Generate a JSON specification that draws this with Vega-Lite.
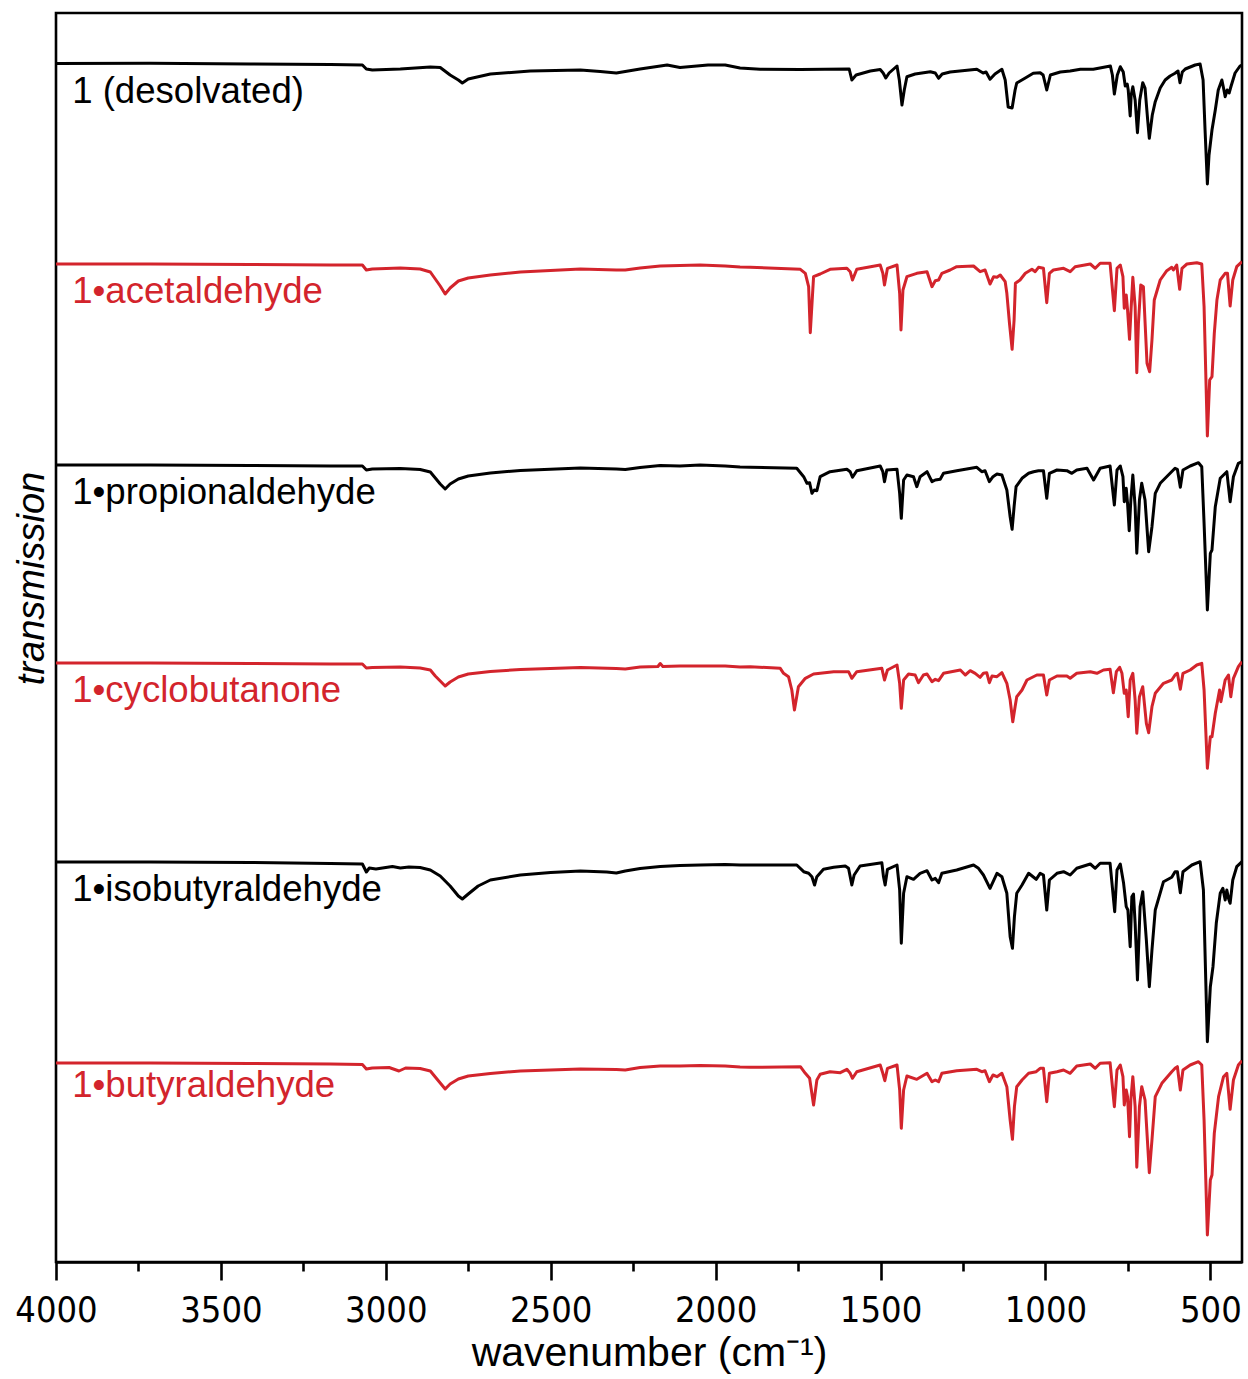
{
"$schema": "https://vega.github.io/schema/vega-lite/v6.json",
"width": 1186, "height": 1249,
"autosize": {"type": "none"},
"padding": {"left": 56, "top": 13, "right": 6, "bottom": 117},
"background": "white",
"config": {"view": {"stroke": "black", "strokeWidth": 2.6}, "font": "Liberation Sans"},
"datasets": {
"spectra": [
{"sample":"desolv","wn":4000,"T":119.85},{"sample":"desolv","wn":3714,"T":119.87},{"sample":"desolv","wn":3411,"T":119.8},{"sample":"desolv","wn":3168,"T":119.75},{"sample":"desolv","wn":3071,"T":119.7},{"sample":"desolv","wn":3059,"T":119.3},{"sample":"desolv","wn":3041,"T":119.2},{"sample":"desolv","wn":2956,"T":119.3},{"sample":"desolv","wn":2865,"T":119.5},{"sample":"desolv","wn":2835,"T":119.45},{"sample":"desolv","wn":2805,"T":118.7},{"sample":"desolv","wn":2780,"T":118.2},{"sample":"desolv","wn":2768,"T":117.9},{"sample":"desolv","wn":2750,"T":118.3},{"sample":"desolv","wn":2683,"T":118.8},{"sample":"desolv","wn":2562,"T":119.1},{"sample":"desolv","wn":2410,"T":119.2},{"sample":"desolv","wn":2350,"T":119.05},{"sample":"desolv","wn":2301,"T":118.9},{"sample":"desolv","wn":2229,"T":119.3},{"sample":"desolv","wn":2147,"T":119.7},{"sample":"desolv","wn":2108,"T":119.45},{"sample":"desolv","wn":2023,"T":119.7},{"sample":"desolv","wn":1971,"T":119.7},{"sample":"desolv","wn":1926,"T":119.4},{"sample":"desolv","wn":1865,"T":119.27},{"sample":"desolv","wn":1743,"T":119.25},{"sample":"desolv","wn":1595,"T":119.3},{"sample":"desolv","wn":1587,"T":118.2},{"sample":"desolv","wn":1574,"T":118.7},{"sample":"desolv","wn":1531,"T":119.1},{"sample":"desolv","wn":1501,"T":119.25},{"sample":"desolv","wn":1492,"T":118.9},{"sample":"desolv","wn":1484,"T":118.4},{"sample":"desolv","wn":1474,"T":118.9},{"sample":"desolv","wn":1450,"T":119.6},{"sample":"desolv","wn":1443,"T":118.2},{"sample":"desolv","wn":1435,"T":115.7},{"sample":"desolv","wn":1428,"T":117.2},{"sample":"desolv","wn":1420,"T":118.53},{"sample":"desolv","wn":1395,"T":118.8},{"sample":"desolv","wn":1349,"T":119.03},{"sample":"desolv","wn":1334,"T":118.9},{"sample":"desolv","wn":1324,"T":118.37},{"sample":"desolv","wn":1313,"T":118.8},{"sample":"desolv","wn":1289,"T":119.0},{"sample":"desolv","wn":1208,"T":119.27},{"sample":"desolv","wn":1189,"T":118.9},{"sample":"desolv","wn":1180,"T":119.0},{"sample":"desolv","wn":1168,"T":118.27},{"sample":"desolv","wn":1153,"T":118.8},{"sample":"desolv","wn":1132,"T":119.27},{"sample":"desolv","wn":1122,"T":118.2},{"sample":"desolv","wn":1113,"T":115.5},{"sample":"desolv","wn":1101,"T":115.4},{"sample":"desolv","wn":1092,"T":117.2},{"sample":"desolv","wn":1087,"T":117.9},{"sample":"desolv","wn":1061,"T":118.4},{"sample":"desolv","wn":1037,"T":118.87},{"sample":"desolv","wn":1016,"T":118.93},{"sample":"desolv","wn":1007,"T":118.7},{"sample":"desolv","wn":996,"T":117.2},{"sample":"desolv","wn":985,"T":118.7},{"sample":"desolv","wn":955,"T":119.0},{"sample":"desolv","wn":925,"T":119.1},{"sample":"desolv","wn":894,"T":119.27},{"sample":"desolv","wn":855,"T":119.27},{"sample":"desolv","wn":803,"T":119.6},{"sample":"desolv","wn":797,"T":118.7},{"sample":"desolv","wn":791,"T":116.8},{"sample":"desolv","wn":782,"T":118.7},{"sample":"desolv","wn":773,"T":119.53},{"sample":"desolv","wn":764,"T":119.0},{"sample":"desolv","wn":758,"T":117.6},{"sample":"desolv","wn":752,"T":117.8},{"sample":"desolv","wn":749,"T":117.2},{"sample":"desolv","wn":743,"T":114.6},{"sample":"desolv","wn":740,"T":116.7},{"sample":"desolv","wn":735,"T":117.53},{"sample":"desolv","wn":728,"T":116.2},{"sample":"desolv","wn":721,"T":112.93},{"sample":"desolv","wn":714,"T":116.2},{"sample":"desolv","wn":705,"T":117.93},{"sample":"desolv","wn":698,"T":117.4},{"sample":"desolv","wn":690,"T":114.2},{"sample":"desolv","wn":685,"T":112.37},{"sample":"desolv","wn":676,"T":114.7},{"sample":"desolv","wn":667,"T":116.03},{"sample":"desolv","wn":652,"T":117.4},{"sample":"desolv","wn":637,"T":118.2},{"sample":"desolv","wn":622,"T":118.6},{"sample":"desolv","wn":607,"T":118.87},{"sample":"desolv","wn":598,"T":119.1},{"sample":"desolv","wn":592,"T":117.93},{"sample":"desolv","wn":585,"T":119.0},{"sample":"desolv","wn":576,"T":119.3},{"sample":"desolv","wn":546,"T":119.7},{"sample":"desolv","wn":531,"T":119.8},{"sample":"desolv","wn":522,"T":118.2},{"sample":"desolv","wn":516,"T":113.2},{"sample":"desolv","wn":509,"T":107.8},{"sample":"desolv","wn":504,"T":110.7},{"sample":"desolv","wn":495,"T":113.2},{"sample":"desolv","wn":485,"T":115.2},{"sample":"desolv","wn":476,"T":117.2},{"sample":"desolv","wn":465,"T":118.2},{"sample":"desolv","wn":460,"T":117.4},{"sample":"desolv","wn":455,"T":116.53},{"sample":"desolv","wn":449,"T":117.2},{"sample":"desolv","wn":443,"T":116.9},{"sample":"desolv","wn":437,"T":117.6},{"sample":"desolv","wn":425,"T":118.9},{"sample":"desolv","wn":410,"T":119.6},{"sample":"desolv","wn":404,"T":119.7},

{"sample":"acet","wn":4000,"T":99.8},{"sample":"acet","wn":3714,"T":99.8},{"sample":"acet","wn":3411,"T":99.75},{"sample":"acet","wn":3168,"T":99.7},{"sample":"acet","wn":3071,"T":99.7},{"sample":"acet","wn":3059,"T":99.2},{"sample":"acet","wn":3041,"T":99.3},{"sample":"acet","wn":2956,"T":99.4},{"sample":"acet","wn":2896,"T":99.3},{"sample":"acet","wn":2865,"T":99.0},{"sample":"acet","wn":2850,"T":98.3},{"sample":"acet","wn":2835,"T":97.6},{"sample":"acet","wn":2820,"T":96.8},{"sample":"acet","wn":2805,"T":97.4},{"sample":"acet","wn":2780,"T":98.1},{"sample":"acet","wn":2750,"T":98.4},{"sample":"acet","wn":2683,"T":98.7},{"sample":"acet","wn":2592,"T":99.0},{"sample":"acet","wn":2410,"T":99.3},{"sample":"acet","wn":2301,"T":99.2},{"sample":"acet","wn":2274,"T":99.2},{"sample":"acet","wn":2229,"T":99.4},{"sample":"acet","wn":2168,"T":99.6},{"sample":"acet","wn":2108,"T":99.65},{"sample":"acet","wn":2047,"T":99.7},{"sample":"acet","wn":1971,"T":99.6},{"sample":"acet","wn":1926,"T":99.5},{"sample":"acet","wn":1895,"T":99.47},{"sample":"acet","wn":1743,"T":99.27},{"sample":"acet","wn":1728,"T":98.87},{"sample":"acet","wn":1718,"T":97.53},{"sample":"acet","wn":1713,"T":92.93},{"sample":"acet","wn":1703,"T":98.53},{"sample":"acet","wn":1683,"T":98.8},{"sample":"acet","wn":1653,"T":99.27},{"sample":"acet","wn":1602,"T":99.37},{"sample":"acet","wn":1592,"T":99.03},{"sample":"acet","wn":1585,"T":98.2},{"sample":"acet","wn":1572,"T":99.27},{"sample":"acet","wn":1501,"T":99.7},{"sample":"acet","wn":1493,"T":98.87},{"sample":"acet","wn":1488,"T":97.7},{"sample":"acet","wn":1479,"T":99.37},{"sample":"acet","wn":1450,"T":99.7},{"sample":"acet","wn":1442,"T":96.87},{"sample":"acet","wn":1438,"T":93.2},{"sample":"acet","wn":1432,"T":97.2},{"sample":"acet","wn":1420,"T":98.53},{"sample":"acet","wn":1390,"T":98.87},{"sample":"acet","wn":1359,"T":99.03},{"sample":"acet","wn":1344,"T":97.53},{"sample":"acet","wn":1334,"T":98.13},{"sample":"acet","wn":1324,"T":98.2},{"sample":"acet","wn":1314,"T":98.87},{"sample":"acet","wn":1289,"T":99.2},{"sample":"acet","wn":1269,"T":99.53},{"sample":"acet","wn":1218,"T":99.6},{"sample":"acet","wn":1198,"T":99.03},{"sample":"acet","wn":1183,"T":99.2},{"sample":"acet","wn":1168,"T":97.8},{"sample":"acet","wn":1157,"T":98.53},{"sample":"acet","wn":1147,"T":98.47},{"sample":"acet","wn":1137,"T":98.7},{"sample":"acet","wn":1122,"T":98.03},{"sample":"acet","wn":1117,"T":96.87},{"sample":"acet","wn":1109,"T":93.87},{"sample":"acet","wn":1101,"T":91.27},{"sample":"acet","wn":1095,"T":94.2},{"sample":"acet","wn":1091,"T":97.87},{"sample":"acet","wn":1077,"T":98.2},{"sample":"acet","wn":1061,"T":98.87},{"sample":"acet","wn":1041,"T":99.27},{"sample":"acet","wn":1031,"T":99.03},{"sample":"acet","wn":1021,"T":99.47},{"sample":"acet","wn":1006,"T":99.37},{"sample":"acet","wn":996,"T":95.93},{"sample":"acet","wn":988,"T":98.87},{"sample":"acet","wn":976,"T":99.2},{"sample":"acet","wn":945,"T":99.37},{"sample":"acet","wn":925,"T":99.03},{"sample":"acet","wn":910,"T":99.53},{"sample":"acet","wn":864,"T":99.8},{"sample":"acet","wn":849,"T":99.37},{"sample":"acet","wn":834,"T":99.87},{"sample":"acet","wn":804,"T":99.87},{"sample":"acet","wn":791,"T":95.13},{"sample":"acet","wn":783,"T":99.37},{"sample":"acet","wn":773,"T":99.7},{"sample":"acet","wn":765,"T":98.53},{"sample":"acet","wn":761,"T":95.37},{"sample":"acet","wn":755,"T":96.7},{"sample":"acet","wn":751,"T":95.2},{"sample":"acet","wn":745,"T":92.27},{"sample":"acet","wn":741,"T":94.87},{"sample":"acet","wn":735,"T":98.47},{"sample":"acet","wn":728,"T":95.53},{"sample":"acet","wn":723,"T":88.93},{"sample":"acet","wn":718,"T":93.87},{"sample":"acet","wn":711,"T":97.7},{"sample":"acet","wn":703,"T":97.53},{"sample":"acet","wn":692,"T":89.87},{"sample":"acet","wn":684,"T":89.03},{"sample":"acet","wn":677,"T":92.2},{"sample":"acet","wn":670,"T":96.2},{"sample":"acet","wn":652,"T":98.2},{"sample":"acet","wn":632,"T":99.13},{"sample":"acet","wn":617,"T":99.47},{"sample":"acet","wn":612,"T":99.2},{"sample":"acet","wn":602,"T":99.7},{"sample":"acet","wn":593,"T":97.27},{"sample":"acet","wn":586,"T":99.37},{"sample":"acet","wn":571,"T":99.8},{"sample":"acet","wn":541,"T":99.93},{"sample":"acet","wn":526,"T":99.8},{"sample":"acet","wn":519,"T":95.53},{"sample":"acet","wn":509,"T":82.6},{"sample":"acet","wn":502,"T":88.2},{"sample":"acet","wn":495,"T":88.53},{"sample":"acet","wn":488,"T":92.87},{"sample":"acet","wn":480,"T":96.2},{"sample":"acet","wn":470,"T":98.2},{"sample":"acet","wn":455,"T":98.87},{"sample":"acet","wn":448,"T":98.87},{"sample":"acet","wn":440,"T":95.6},{"sample":"acet","wn":432,"T":98.2},{"sample":"acet","wn":420,"T":99.53},{"sample":"acet","wn":404,"T":100.03},

{"sample":"prop","wn":4000,"T":79.7},{"sample":"prop","wn":3714,"T":79.7},{"sample":"prop","wn":3411,"T":79.65},{"sample":"prop","wn":3168,"T":79.6},{"sample":"prop","wn":3071,"T":79.6},{"sample":"prop","wn":3059,"T":79.2},{"sample":"prop","wn":3041,"T":79.3},{"sample":"prop","wn":2956,"T":79.35},{"sample":"prop","wn":2896,"T":79.25},{"sample":"prop","wn":2865,"T":79.0},{"sample":"prop","wn":2850,"T":78.4},{"sample":"prop","wn":2835,"T":77.8},{"sample":"prop","wn":2820,"T":77.3},{"sample":"prop","wn":2805,"T":77.8},{"sample":"prop","wn":2780,"T":78.3},{"sample":"prop","wn":2750,"T":78.6},{"sample":"prop","wn":2683,"T":78.9},{"sample":"prop","wn":2592,"T":79.15},{"sample":"prop","wn":2410,"T":79.4},{"sample":"prop","wn":2301,"T":79.3},{"sample":"prop","wn":2274,"T":79.25},{"sample":"prop","wn":2229,"T":79.45},{"sample":"prop","wn":2168,"T":79.65},{"sample":"prop","wn":2108,"T":79.6},{"sample":"prop","wn":2047,"T":79.7},{"sample":"prop","wn":1971,"T":79.6},{"sample":"prop","wn":1926,"T":79.5},{"sample":"prop","wn":1895,"T":79.47},{"sample":"prop","wn":1754,"T":79.37},{"sample":"prop","wn":1733,"T":78.53},{"sample":"prop","wn":1723,"T":77.87},{"sample":"prop","wn":1715,"T":77.93},{"sample":"prop","wn":1708,"T":76.87},{"sample":"prop","wn":1701,"T":77.2},{"sample":"prop","wn":1693,"T":77.13},{"sample":"prop","wn":1683,"T":78.53},{"sample":"prop","wn":1653,"T":79.03},{"sample":"prop","wn":1602,"T":79.27},{"sample":"prop","wn":1592,"T":79.03},{"sample":"prop","wn":1585,"T":78.47},{"sample":"prop","wn":1572,"T":79.13},{"sample":"prop","wn":1501,"T":79.6},{"sample":"prop","wn":1493,"T":79.03},{"sample":"prop","wn":1488,"T":78.03},{"sample":"prop","wn":1481,"T":79.2},{"sample":"prop","wn":1450,"T":79.27},{"sample":"prop","wn":1442,"T":76.87},{"sample":"prop","wn":1437,"T":74.37},{"sample":"prop","wn":1430,"T":78.2},{"sample":"prop","wn":1420,"T":78.7},{"sample":"prop","wn":1400,"T":78.53},{"sample":"prop","wn":1390,"T":77.53},{"sample":"prop","wn":1380,"T":78.53},{"sample":"prop","wn":1359,"T":79.03},{"sample":"prop","wn":1344,"T":78.03},{"sample":"prop","wn":1334,"T":78.2},{"sample":"prop","wn":1319,"T":78.27},{"sample":"prop","wn":1309,"T":78.87},{"sample":"prop","wn":1269,"T":79.13},{"sample":"prop","wn":1208,"T":79.47},{"sample":"prop","wn":1193,"T":79.03},{"sample":"prop","wn":1183,"T":79.13},{"sample":"prop","wn":1170,"T":78.03},{"sample":"prop","wn":1159,"T":78.53},{"sample":"prop","wn":1147,"T":78.8},{"sample":"prop","wn":1132,"T":78.7},{"sample":"prop","wn":1117,"T":77.2},{"sample":"prop","wn":1107,"T":74.53},{"sample":"prop","wn":1101,"T":73.27},{"sample":"prop","wn":1095,"T":75.53},{"sample":"prop","wn":1089,"T":77.53},{"sample":"prop","wn":1071,"T":78.37},{"sample":"prop","wn":1051,"T":78.87},{"sample":"prop","wn":1036,"T":79.03},{"sample":"prop","wn":1021,"T":79.13},{"sample":"prop","wn":1006,"T":79.13},{"sample":"prop","wn":996,"T":76.37},{"sample":"prop","wn":988,"T":78.87},{"sample":"prop","wn":965,"T":79.2},{"sample":"prop","wn":935,"T":79.13},{"sample":"prop","wn":920,"T":78.87},{"sample":"prop","wn":905,"T":79.2},{"sample":"prop","wn":874,"T":79.37},{"sample":"prop","wn":854,"T":78.2},{"sample":"prop","wn":834,"T":79.37},{"sample":"prop","wn":804,"T":79.6},{"sample":"prop","wn":791,"T":75.7},{"sample":"prop","wn":783,"T":79.2},{"sample":"prop","wn":773,"T":79.6},{"sample":"prop","wn":765,"T":78.53},{"sample":"prop","wn":761,"T":76.03},{"sample":"prop","wn":755,"T":77.37},{"sample":"prop","wn":751,"T":75.87},{"sample":"prop","wn":746,"T":73.13},{"sample":"prop","wn":741,"T":76.2},{"sample":"prop","wn":735,"T":78.7},{"sample":"prop","wn":728,"T":75.53},{"sample":"prop","wn":723,"T":70.87},{"sample":"prop","wn":715,"T":76.2},{"sample":"prop","wn":708,"T":77.87},{"sample":"prop","wn":698,"T":76.2},{"sample":"prop","wn":687,"T":71.03},{"sample":"prop","wn":677,"T":73.53},{"sample":"prop","wn":667,"T":76.87},{"sample":"prop","wn":652,"T":77.87},{"sample":"prop","wn":622,"T":78.87},{"sample":"prop","wn":607,"T":79.37},{"sample":"prop","wn":600,"T":79.27},{"sample":"prop","wn":591,"T":77.47},{"sample":"prop","wn":583,"T":79.2},{"sample":"prop","wn":561,"T":79.6},{"sample":"prop","wn":536,"T":79.93},{"sample":"prop","wn":526,"T":79.53},{"sample":"prop","wn":519,"T":73.87},{"sample":"prop","wn":509,"T":65.2},{"sample":"prop","wn":500,"T":70.87},{"sample":"prop","wn":495,"T":71.2},{"sample":"prop","wn":485,"T":75.53},{"sample":"prop","wn":470,"T":78.37},{"sample":"prop","wn":450,"T":79.03},{"sample":"prop","wn":440,"T":76.03},{"sample":"prop","wn":430,"T":78.53},{"sample":"prop","wn":415,"T":79.87},{"sample":"prop","wn":404,"T":80.03},

{"sample":"cbut","wn":4000,"T":59.9},{"sample":"cbut","wn":3714,"T":59.9},{"sample":"cbut","wn":3411,"T":59.85},{"sample":"cbut","wn":3168,"T":59.8},{"sample":"cbut","wn":3071,"T":59.8},{"sample":"cbut","wn":3059,"T":59.4},{"sample":"cbut","wn":3041,"T":59.45},{"sample":"cbut","wn":2956,"T":59.5},{"sample":"cbut","wn":2896,"T":59.4},{"sample":"cbut","wn":2865,"T":59.2},{"sample":"cbut","wn":2850,"T":58.6},{"sample":"cbut","wn":2835,"T":58.1},{"sample":"cbut","wn":2820,"T":57.6},{"sample":"cbut","wn":2805,"T":58.0},{"sample":"cbut","wn":2780,"T":58.5},{"sample":"cbut","wn":2750,"T":58.8},{"sample":"cbut","wn":2683,"T":59.05},{"sample":"cbut","wn":2592,"T":59.25},{"sample":"cbut","wn":2410,"T":59.45},{"sample":"cbut","wn":2301,"T":59.35},{"sample":"cbut","wn":2274,"T":59.3},{"sample":"cbut","wn":2229,"T":59.5},{"sample":"cbut","wn":2175,"T":59.55},{"sample":"cbut","wn":2168,"T":59.85},{"sample":"cbut","wn":2160,"T":59.55},{"sample":"cbut","wn":2108,"T":59.6},{"sample":"cbut","wn":2047,"T":59.6},{"sample":"cbut","wn":1971,"T":59.6},{"sample":"cbut","wn":1926,"T":59.5},{"sample":"cbut","wn":1895,"T":59.53},{"sample":"cbut","wn":1804,"T":59.37},{"sample":"cbut","wn":1794,"T":58.87},{"sample":"cbut","wn":1779,"T":58.53},{"sample":"cbut","wn":1769,"T":57.2},{"sample":"cbut","wn":1761,"T":55.2},{"sample":"cbut","wn":1749,"T":57.53},{"sample":"cbut","wn":1728,"T":58.37},{"sample":"cbut","wn":1703,"T":58.8},{"sample":"cbut","wn":1642,"T":59.03},{"sample":"cbut","wn":1597,"T":59.03},{"sample":"cbut","wn":1587,"T":58.37},{"sample":"cbut","wn":1572,"T":59.03},{"sample":"cbut","wn":1496,"T":59.37},{"sample":"cbut","wn":1488,"T":58.2},{"sample":"cbut","wn":1479,"T":59.2},{"sample":"cbut","wn":1450,"T":59.7},{"sample":"cbut","wn":1442,"T":57.87},{"sample":"cbut","wn":1437,"T":55.37},{"sample":"cbut","wn":1430,"T":58.2},{"sample":"cbut","wn":1415,"T":58.8},{"sample":"cbut","wn":1395,"T":58.7},{"sample":"cbut","wn":1385,"T":57.93},{"sample":"cbut","wn":1370,"T":58.7},{"sample":"cbut","wn":1359,"T":58.8},{"sample":"cbut","wn":1344,"T":58.03},{"sample":"cbut","wn":1334,"T":58.27},{"sample":"cbut","wn":1324,"T":58.13},{"sample":"cbut","wn":1309,"T":58.87},{"sample":"cbut","wn":1258,"T":59.2},{"sample":"cbut","wn":1243,"T":58.7},{"sample":"cbut","wn":1228,"T":59.13},{"sample":"cbut","wn":1213,"T":58.87},{"sample":"cbut","wn":1198,"T":58.47},{"sample":"cbut","wn":1188,"T":58.87},{"sample":"cbut","wn":1178,"T":58.93},{"sample":"cbut","wn":1170,"T":57.93},{"sample":"cbut","wn":1162,"T":58.6},{"sample":"cbut","wn":1147,"T":58.53},{"sample":"cbut","wn":1132,"T":58.93},{"sample":"cbut","wn":1117,"T":57.87},{"sample":"cbut","wn":1107,"T":56.2},{"sample":"cbut","wn":1099,"T":54.03},{"sample":"cbut","wn":1092,"T":55.53},{"sample":"cbut","wn":1087,"T":56.53},{"sample":"cbut","wn":1071,"T":57.2},{"sample":"cbut","wn":1056,"T":58.2},{"sample":"cbut","wn":1026,"T":58.7},{"sample":"cbut","wn":1006,"T":58.7},{"sample":"cbut","wn":996,"T":56.7},{"sample":"cbut","wn":988,"T":58.2},{"sample":"cbut","wn":965,"T":58.6},{"sample":"cbut","wn":935,"T":58.6},{"sample":"cbut","wn":925,"T":58.37},{"sample":"cbut","wn":905,"T":58.87},{"sample":"cbut","wn":864,"T":59.03},{"sample":"cbut","wn":844,"T":58.87},{"sample":"cbut","wn":824,"T":59.2},{"sample":"cbut","wn":804,"T":59.27},{"sample":"cbut","wn":794,"T":56.93},{"sample":"cbut","wn":785,"T":59.03},{"sample":"cbut","wn":775,"T":59.47},{"sample":"cbut","wn":768,"T":58.87},{"sample":"cbut","wn":761,"T":56.87},{"sample":"cbut","wn":755,"T":57.2},{"sample":"cbut","wn":749,"T":54.53},{"sample":"cbut","wn":743,"T":58.2},{"sample":"cbut","wn":735,"T":58.87},{"sample":"cbut","wn":728,"T":56.2},{"sample":"cbut","wn":723,"T":52.87},{"sample":"cbut","wn":715,"T":56.53},{"sample":"cbut","wn":705,"T":57.53},{"sample":"cbut","wn":694,"T":53.87},{"sample":"cbut","wn":687,"T":52.93},{"sample":"cbut","wn":677,"T":55.53},{"sample":"cbut","wn":667,"T":56.87},{"sample":"cbut","wn":642,"T":57.87},{"sample":"cbut","wn":617,"T":58.2},{"sample":"cbut","wn":607,"T":58.7},{"sample":"cbut","wn":600,"T":58.87},{"sample":"cbut","wn":591,"T":57.27},{"sample":"cbut","wn":583,"T":58.87},{"sample":"cbut","wn":561,"T":59.2},{"sample":"cbut","wn":541,"T":59.7},{"sample":"cbut","wn":526,"T":59.87},{"sample":"cbut","wn":519,"T":57.2},{"sample":"cbut","wn":509,"T":49.37},{"sample":"cbut","wn":500,"T":52.53},{"sample":"cbut","wn":495,"T":52.53},{"sample":"cbut","wn":485,"T":54.87},{"sample":"cbut","wn":472,"T":57.2},{"sample":"cbut","wn":468,"T":56.03},{"sample":"cbut","wn":455,"T":58.2},{"sample":"cbut","wn":445,"T":58.7},{"sample":"cbut","wn":438,"T":56.53},{"sample":"cbut","wn":430,"T":58.37},{"sample":"cbut","wn":415,"T":59.53},{"sample":"cbut","wn":404,"T":60.03},

{"sample":"isobut","wn":4000,"T":40.0},{"sample":"isobut","wn":3714,"T":40.0},{"sample":"isobut","wn":3411,"T":39.95},{"sample":"isobut","wn":3168,"T":39.85},{"sample":"isobut","wn":3071,"T":39.8},{"sample":"isobut","wn":3059,"T":39.0},{"sample":"isobut","wn":3050,"T":39.4},{"sample":"isobut","wn":3030,"T":39.3},{"sample":"isobut","wn":2980,"T":39.55},{"sample":"isobut","wn":2956,"T":39.4},{"sample":"isobut","wn":2930,"T":39.5},{"sample":"isobut","wn":2896,"T":39.45},{"sample":"isobut","wn":2865,"T":39.2},{"sample":"isobut","wn":2835,"T":38.6},{"sample":"isobut","wn":2805,"T":37.6},{"sample":"isobut","wn":2780,"T":36.6},{"sample":"isobut","wn":2768,"T":36.3},{"sample":"isobut","wn":2750,"T":36.8},{"sample":"isobut","wn":2720,"T":37.6},{"sample":"isobut","wn":2683,"T":38.2},{"sample":"isobut","wn":2592,"T":38.7},{"sample":"isobut","wn":2500,"T":38.95},{"sample":"isobut","wn":2410,"T":39.1},{"sample":"isobut","wn":2330,"T":39.0},{"sample":"isobut","wn":2301,"T":38.9},{"sample":"isobut","wn":2274,"T":39.1},{"sample":"isobut","wn":2229,"T":39.35},{"sample":"isobut","wn":2168,"T":39.55},{"sample":"isobut","wn":2108,"T":39.65},{"sample":"isobut","wn":2047,"T":39.7},{"sample":"isobut","wn":1971,"T":39.75},{"sample":"isobut","wn":1926,"T":39.7},{"sample":"isobut","wn":1895,"T":39.7},{"sample":"isobut","wn":1754,"T":39.7},{"sample":"isobut","wn":1733,"T":39.03},{"sample":"isobut","wn":1718,"T":38.87},{"sample":"isobut","wn":1708,"T":38.53},{"sample":"isobut","wn":1700,"T":37.7},{"sample":"isobut","wn":1693,"T":38.53},{"sample":"isobut","wn":1673,"T":39.27},{"sample":"isobut","wn":1642,"T":39.47},{"sample":"isobut","wn":1607,"T":39.6},{"sample":"isobut","wn":1597,"T":39.37},{"sample":"isobut","wn":1587,"T":37.7},{"sample":"isobut","wn":1580,"T":38.7},{"sample":"isobut","wn":1562,"T":39.6},{"sample":"isobut","wn":1496,"T":39.93},{"sample":"isobut","wn":1491,"T":38.53},{"sample":"isobut","wn":1486,"T":37.7},{"sample":"isobut","wn":1479,"T":39.27},{"sample":"isobut","wn":1450,"T":39.7},{"sample":"isobut","wn":1442,"T":37.2},{"sample":"isobut","wn":1437,"T":31.87},{"sample":"isobut","wn":1430,"T":36.87},{"sample":"isobut","wn":1420,"T":38.53},{"sample":"isobut","wn":1400,"T":38.27},{"sample":"isobut","wn":1380,"T":38.87},{"sample":"isobut","wn":1359,"T":39.13},{"sample":"isobut","wn":1344,"T":38.2},{"sample":"isobut","wn":1334,"T":38.37},{"sample":"isobut","wn":1324,"T":37.93},{"sample":"isobut","wn":1314,"T":38.87},{"sample":"isobut","wn":1269,"T":39.2},{"sample":"isobut","wn":1218,"T":39.7},{"sample":"isobut","wn":1203,"T":39.37},{"sample":"isobut","wn":1188,"T":38.7},{"sample":"isobut","wn":1168,"T":37.37},{"sample":"isobut","wn":1147,"T":38.87},{"sample":"isobut","wn":1132,"T":38.53},{"sample":"isobut","wn":1117,"T":36.87},{"sample":"isobut","wn":1107,"T":32.53},{"sample":"isobut","wn":1100,"T":31.37},{"sample":"isobut","wn":1094,"T":34.53},{"sample":"isobut","wn":1087,"T":36.87},{"sample":"isobut","wn":1071,"T":37.7},{"sample":"isobut","wn":1051,"T":38.87},{"sample":"isobut","wn":1028,"T":38.27},{"sample":"isobut","wn":1016,"T":38.87},{"sample":"isobut","wn":1006,"T":38.7},{"sample":"isobut","wn":996,"T":35.2},{"sample":"isobut","wn":988,"T":38.2},{"sample":"isobut","wn":965,"T":38.87},{"sample":"isobut","wn":945,"T":39.03},{"sample":"isobut","wn":925,"T":38.7},{"sample":"isobut","wn":905,"T":39.37},{"sample":"isobut","wn":864,"T":39.8},{"sample":"isobut","wn":849,"T":39.37},{"sample":"isobut","wn":834,"T":39.87},{"sample":"isobut","wn":804,"T":39.87},{"sample":"isobut","wn":790,"T":35.03},{"sample":"isobut","wn":783,"T":39.2},{"sample":"isobut","wn":773,"T":39.8},{"sample":"isobut","wn":763,"T":37.87},{"sample":"isobut","wn":755,"T":35.53},{"sample":"isobut","wn":750,"T":35.2},{"sample":"isobut","wn":743,"T":31.53},{"sample":"isobut","wn":738,"T":36.53},{"sample":"isobut","wn":733,"T":36.8},{"sample":"isobut","wn":728,"T":33.87},{"sample":"isobut","wn":721,"T":28.2},{"sample":"isobut","wn":713,"T":35.53},{"sample":"isobut","wn":705,"T":37.03},{"sample":"isobut","wn":694,"T":32.2},{"sample":"isobut","wn":685,"T":27.53},{"sample":"isobut","wn":677,"T":31.2},{"sample":"isobut","wn":667,"T":35.2},{"sample":"isobut","wn":642,"T":38.03},{"sample":"isobut","wn":617,"T":38.47},{"sample":"isobut","wn":607,"T":39.03},{"sample":"isobut","wn":600,"T":39.03},{"sample":"isobut","wn":591,"T":36.93},{"sample":"isobut","wn":583,"T":39.03},{"sample":"isobut","wn":556,"T":39.7},{"sample":"isobut","wn":531,"T":40.03},{"sample":"isobut","wn":521,"T":37.2},{"sample":"isobut","wn":509,"T":22.03},{"sample":"isobut","wn":500,"T":27.53},{"sample":"isobut","wn":492,"T":29.53},{"sample":"isobut","wn":482,"T":33.87},{"sample":"isobut","wn":470,"T":36.87},{"sample":"isobut","wn":462,"T":37.37},{"sample":"isobut","wn":455,"T":36.2},{"sample":"isobut","wn":450,"T":37.2},{"sample":"isobut","wn":445,"T":36.37},{"sample":"isobut","wn":440,"T":35.87},{"sample":"isobut","wn":432,"T":38.2},{"sample":"isobut","wn":420,"T":39.53},{"sample":"isobut","wn":404,"T":40.03},

{"sample":"but","wn":4000,"T":19.9},{"sample":"but","wn":3714,"T":19.9},{"sample":"but","wn":3411,"T":19.85},{"sample":"but","wn":3168,"T":19.8},{"sample":"but","wn":3071,"T":19.75},{"sample":"but","wn":3059,"T":19.3},{"sample":"but","wn":3041,"T":19.4},{"sample":"but","wn":2990,"T":19.45},{"sample":"but","wn":2960,"T":19.1},{"sample":"but","wn":2940,"T":19.4},{"sample":"but","wn":2896,"T":19.35},{"sample":"but","wn":2865,"T":19.1},{"sample":"but","wn":2850,"T":18.5},{"sample":"but","wn":2835,"T":17.9},{"sample":"but","wn":2820,"T":17.3},{"sample":"but","wn":2805,"T":17.8},{"sample":"but","wn":2780,"T":18.3},{"sample":"but","wn":2750,"T":18.6},{"sample":"but","wn":2683,"T":18.85},{"sample":"but","wn":2592,"T":19.1},{"sample":"but","wn":2410,"T":19.3},{"sample":"but","wn":2301,"T":19.25},{"sample":"but","wn":2274,"T":19.2},{"sample":"but","wn":2229,"T":19.45},{"sample":"but","wn":2168,"T":19.6},{"sample":"but","wn":2108,"T":19.6},{"sample":"but","wn":2047,"T":19.65},{"sample":"but","wn":1971,"T":19.6},{"sample":"but","wn":1926,"T":19.5},{"sample":"but","wn":1895,"T":19.47},{"sample":"but","wn":1743,"T":19.53},{"sample":"but","wn":1728,"T":18.87},{"sample":"but","wn":1715,"T":18.37},{"sample":"but","wn":1703,"T":15.7},{"sample":"but","wn":1693,"T":18.2},{"sample":"but","wn":1683,"T":18.77},{"sample":"but","wn":1653,"T":19.03},{"sample":"but","wn":1622,"T":18.93},{"sample":"but","wn":1602,"T":19.27},{"sample":"but","wn":1592,"T":18.87},{"sample":"but","wn":1585,"T":18.37},{"sample":"but","wn":1572,"T":19.03},{"sample":"but","wn":1501,"T":19.7},{"sample":"but","wn":1493,"T":18.87},{"sample":"but","wn":1487,"T":18.13},{"sample":"but","wn":1479,"T":19.37},{"sample":"but","wn":1450,"T":19.7},{"sample":"but","wn":1442,"T":17.2},{"sample":"but","wn":1437,"T":13.37},{"sample":"but","wn":1430,"T":17.2},{"sample":"but","wn":1420,"T":18.6},{"sample":"but","wn":1390,"T":18.27},{"sample":"but","wn":1359,"T":18.87},{"sample":"but","wn":1344,"T":18.03},{"sample":"but","wn":1334,"T":18.2},{"sample":"but","wn":1324,"T":18.03},{"sample":"but","wn":1314,"T":18.87},{"sample":"but","wn":1269,"T":19.13},{"sample":"but","wn":1208,"T":19.27},{"sample":"but","wn":1193,"T":19.03},{"sample":"but","wn":1183,"T":19.13},{"sample":"but","wn":1170,"T":18.03},{"sample":"but","wn":1159,"T":18.7},{"sample":"but","wn":1147,"T":18.53},{"sample":"but","wn":1132,"T":18.87},{"sample":"but","wn":1117,"T":17.53},{"sample":"but","wn":1107,"T":14.2},{"sample":"but","wn":1100,"T":12.27},{"sample":"but","wn":1094,"T":15.53},{"sample":"but","wn":1087,"T":17.53},{"sample":"but","wn":1071,"T":18.2},{"sample":"but","wn":1051,"T":18.87},{"sample":"but","wn":1028,"T":19.03},{"sample":"but","wn":1016,"T":19.37},{"sample":"but","wn":1006,"T":19.37},{"sample":"but","wn":996,"T":16.03},{"sample":"but","wn":988,"T":18.87},{"sample":"but","wn":965,"T":19.03},{"sample":"but","wn":945,"T":19.2},{"sample":"but","wn":925,"T":18.87},{"sample":"but","wn":905,"T":19.6},{"sample":"but","wn":864,"T":19.8},{"sample":"but","wn":849,"T":19.37},{"sample":"but","wn":834,"T":19.87},{"sample":"but","wn":804,"T":19.93},{"sample":"but","wn":791,"T":15.53},{"sample":"but","wn":783,"T":19.2},{"sample":"but","wn":773,"T":19.7},{"sample":"but","wn":765,"T":18.53},{"sample":"but","wn":761,"T":15.7},{"sample":"but","wn":755,"T":17.2},{"sample":"but","wn":751,"T":16.53},{"sample":"but","wn":745,"T":12.53},{"sample":"but","wn":741,"T":16.2},{"sample":"but","wn":735,"T":18.53},{"sample":"but","wn":728,"T":15.53},{"sample":"but","wn":723,"T":9.47},{"sample":"but","wn":715,"T":15.53},{"sample":"but","wn":708,"T":17.53},{"sample":"but","wn":698,"T":16.2},{"sample":"but","wn":685,"T":8.93},{"sample":"but","wn":677,"T":12.2},{"sample":"but","wn":667,"T":16.53},{"sample":"but","wn":647,"T":17.87},{"sample":"but","wn":617,"T":19.03},{"sample":"but","wn":607,"T":19.37},{"sample":"but","wn":600,"T":19.53},{"sample":"but","wn":591,"T":17.2},{"sample":"but","wn":583,"T":19.2},{"sample":"but","wn":561,"T":19.7},{"sample":"but","wn":536,"T":20.03},{"sample":"but","wn":526,"T":19.7},{"sample":"but","wn":519,"T":14.2},{"sample":"but","wn":509,"T":2.7},{"sample":"but","wn":500,"T":8.2},{"sample":"but","wn":495,"T":8.7},{"sample":"but","wn":488,"T":12.87},{"sample":"but","wn":475,"T":16.53},{"sample":"but","wn":460,"T":18.53},{"sample":"but","wn":450,"T":18.87},{"sample":"but","wn":440,"T":15.27},{"sample":"but","wn":430,"T":18.2},{"sample":"but","wn":415,"T":19.7},{"sample":"but","wn":404,"T":20.13}
],
"labels": [
{"sample":"desolv","text":"1 (desolvated)","wn":3951,"T":117.0},
{"sample":"acet","text":"1•acetaldehyde","wn":3951,"T":97.0},
{"sample":"prop","text":"1•propionaldehyde","wn":3951,"T":76.9},
{"sample":"cbut","text":"1•cyclobutanone","wn":3951,"T":57.1},
{"sample":"isobut","text":"1•isobutyraldehyde","wn":3951,"T":37.2},
{"sample":"but","text":"1•butyraldehyde","wn":3951,"T":17.6}
]
},
"layer": [
{
"data": {"name": "spectra"},
"mark": {"type": "line", "strokeWidth": 3, "clip": true, "strokeJoin": "round"},
"encoding": {
"x": {"field": "wn", "type": "quantitative",
 "scale": {"domain": [404, 4000], "reverse": true, "nice": false, "zero": false},
 "axis": {
  "values": [4000,3750,3500,3250,3000,2750,2500,2250,2000,1750,1500,1250,1000,750,500],
  "format": "d",
  "labelExpr": "datum.value % 500 === 0 ? datum.label : ''",
  "tickSize": {"condition": {"test": "datum.value % 500 !== 0", "value": 9}, "value": 18},
  "tickWidth": 2.6, "tickColor": "black",
  "domainColor": "black", "domainWidth": 2.6,
  "labelFont": "DejaVu Sans Condensed, Liberation Sans, sans-serif", "labelFontSize": 36, "labelColor": "black", "labelPadding": 13,
  "labelFlush": false, "labelOverlap": false, "grid": false,
  "title": "wavenumber (cm⁻¹)", "titleFont": "Liberation Sans", "titleFontSize": 41, "titleFontWeight": "normal", "titleColor": "black", "titlePadding": 5
 }},
"y": {"field": "T", "type": "quantitative",
 "scale": {"domain": [0, 124.9], "nice": false, "zero": false},
 "axis": {"title": "transmission", "titleFontStyle": "italic", "titleFont": "Liberation Sans", "titleFontSize": 38, "titleFontWeight": "normal", "titleColor": "black", "ticks": false, "labels": false, "domain": false, "grid": false, "titlePadding": 5, "titleY": 565}},
"color": {"field": "sample", "type": "nominal",
 "scale": {"domain": ["desolv","acet","prop","cbut","isobut","but"], "range": ["#000000","#d3242c","#000000","#d3242c","#000000","#d3242c"]},
 "legend": null}
}
},
{
"data": {"name": "labels"},
"mark": {"type": "text", "align": "left", "baseline": "middle", "fontSize": 36.6, "font": "Liberation Sans"},
"encoding": {
"x": {"field": "wn", "type": "quantitative"},
"y": {"field": "T", "type": "quantitative"},
"text": {"field": "text"},
"color": {"field": "sample", "type": "nominal"}
}
}
]
}
